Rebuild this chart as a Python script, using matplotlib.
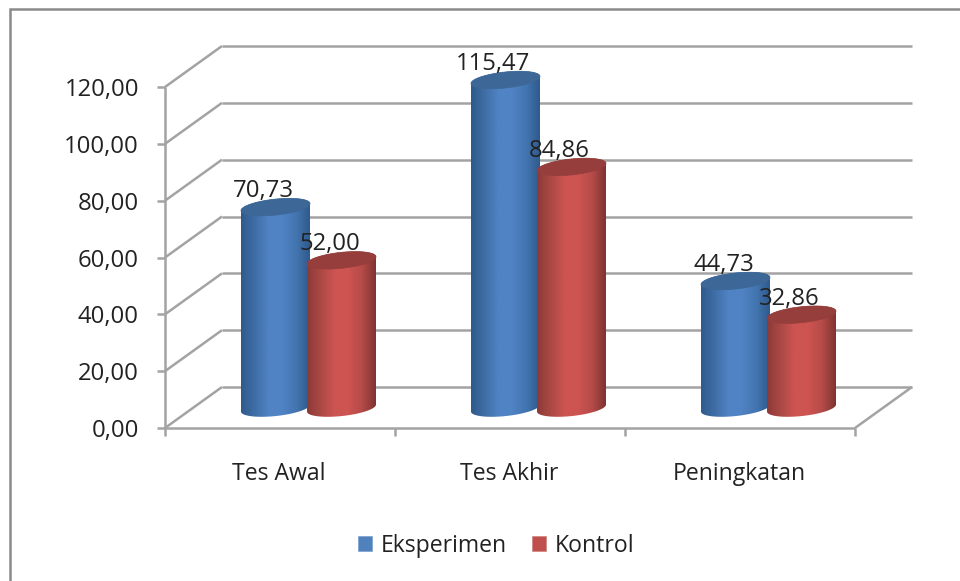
import numpy as np
import matplotlib
matplotlib.use("Agg")
import matplotlib.pyplot as plt
from matplotlib.patches import Polygon, Patch
from matplotlib.lines import Line2D
from matplotlib.colors import LinearSegmentedColormap

categories = ["Tes Awal", "Tes Akhir", "Peningkatan"]
eksperimen = [70.73, 115.47, 44.73]
kontrol = [52.00, 84.86, 32.86]
series_names = ["Eksperimen", "Kontrol"]
y_ticks = [0, 20, 40, 60, 80, 100, 120]

plt.rcParams["font.family"] = ["Open Sans", "DejaVu Sans"]
W, H = 960, 581
fig = plt.figure(figsize=(W / 100, H / 100), dpi=100, facecolor="white")
L, R, T, B = 165, 855, 87, 428
ax = fig.add_axes([L / W, 1 - B / H, (R - L) / W, (B - T) / H])
ax.set_xlim(0, 3)
ax.set_ylim(0, 120)
ax.axis("off")

GRID = "#a3a3a3"
TXT = "#222222"
FS = 17.2
FS_L = 16.6
px_x = 3 / (R - L)
px_y = 120 / (B - T)
DX, DY = 57 * px_x, 41 * px_y

# chart frame: only the left and top edges are inside the picture
fig.add_artist(Line2D([9.5 / W, 9.5 / W, 1], [0, 1 - 8.5 / H, 1 - 8.5 / H], transform=fig.transFigure,
                      color="#8a8a8a", lw=1.8, solid_joinstyle="miter"))

# walls, floor and axes
lk = dict(color=GRID, lw=1.8, clip_on=False, solid_capstyle="butt", zorder=1)
for v in y_ticks:
    ax.plot([0, DX], [v, v + DY], **lk)
    ax.plot([DX, 3 + DX], [v + DY, v + DY], **lk)
    ax.plot([-8 * px_x, 0], [v, v], **lk)
    ax.text(-26 * px_x, v - 3 * px_y, f"{v:.2f}".replace(".", ","), ha="right", va="center",
            fontsize=FS, color=TXT, clip_on=False)
ax.plot([0, 0], [0, 120], **lk)
ax.plot([0, 3], [0, 0], **lk)
ax.plot([3, 3 + DX], [0, DY], **lk)
for i in range(4):
    ax.plot([i, i], [0, -8 * px_y], **lk)
for i, c in enumerate(categories):
    ax.text(i + 0.5 - 1 * px_x, -46 * px_y, c, ha="center", va="center", fontsize=FS_L, color=TXT, clip_on=False)

# cylinders
blue = LinearSegmentedColormap.from_list("b", ["#2f5a8c", "#3f6ea6", "#5083c4", "#5083c4", "#4375b0", "#2f5a8c"])
red = LinearSegmentedColormap.from_list("r", ["#8c3a38", "#ab4946", "#cd5451", "#cd5451", "#b54b48", "#7f3331"])
A = 34.5 * px_x
BH = 8.0 * px_y
TILT = 3.5 * px_y
BASE = DY / 2 - 0.2
SPREAD = 33 * px_x


def ellipse(cx, cy, t):
    return np.column_stack([cx + A * np.cos(t), cy + BH * np.sin(t) + TILT * np.cos(t)])


def cylinder(cx, value, cmap, cap, z):
    top = BASE + value
    side = np.vstack([ellipse(cx, BASE, np.linspace(np.pi, 2 * np.pi, 60)),
                      ellipse(cx, top, np.linspace(0, np.pi, 60))])
    poly = Polygon(side, closed=True, fc="none", ec="none", transform=ax.transData)
    ax.add_patch(poly)
    grad = np.linspace(0, 1, 256).reshape(1, -1)
    im = ax.imshow(grad, cmap=cmap, extent=[cx - A, cx + A, BASE - 10, top + 10], aspect="auto",
                   zorder=z, interpolation="bilinear")
    im.set_clip_path(poly)
    im.set_clip_box(fig.bbox)  # the tallest cylinder rises above the 120 front-plane line
    ax.add_patch(Polygon(ellipse(cx, top, np.linspace(0, 2 * np.pi, 120)), closed=True, fc=cap,
                         ec=cap, lw=0.5, zorder=z + 0.1, clip_on=False))
    return top


for i in range(3):
    cx = i + 0.5 + DX / 2
    t1 = cylinder(cx - SPREAD, eksperimen[i], blue, "#3c6796", 3)
    t2 = cylinder(cx + SPREAD, kontrol[i], red, "#953e3c", 4)
    ax.text(cx - SPREAD - 12 * px_x, t1 + 16 * px_y, f"{eksperimen[i]:.2f}".replace(".", ","),
            ha="center", va="center", fontsize=FS, color=TXT, zorder=6)
    ax.text(cx + SPREAD - 12 * px_x, t2 + 16 * px_y, f"{kontrol[i]:.2f}".replace(".", ","),
            ha="center", va="center", fontsize=FS, color=TXT, zorder=6)
ax.set_xlim(0, 3)
ax.set_ylim(0, 120)

handles = [Patch(fc="#4f81bd", ec="#7ba0cd", lw=0.5), Patch(fc="#c0504d", ec="#d08583", lw=0.5)]
fig.legend(handles, series_names, loc="center", bbox_to_anchor=(496 / W, 1 - 546 / H), ncol=2, frameon=False,
           fontsize=FS_L, labelcolor=TXT, handlelength=0.62, handleheight=0.62, handletextpad=0.35,
           columnspacing=1.1)

fig.savefig("out.png", dpi=100, facecolor="white")
